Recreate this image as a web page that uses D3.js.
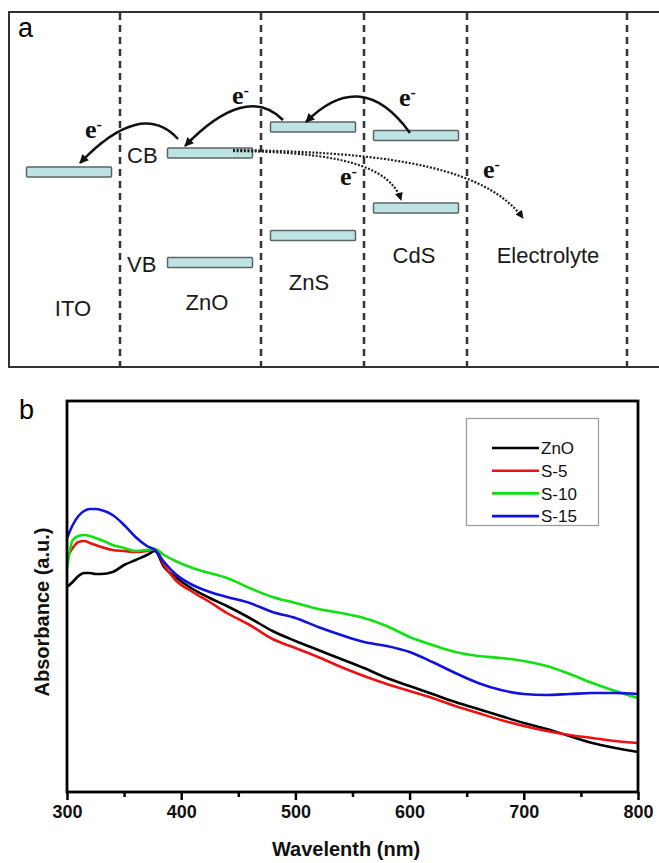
<!DOCTYPE html>
<html>
<head>
<meta charset="utf-8">
<script src="https://cdnjs.cloudflare.com/ajax/libs/d3/7.8.5/d3.min.js"></script>
<style>
	body { margin: 0; background: #fff; }
	svg { display: block; }
	text { font-family: "Liberation Sans", Arial, sans-serif; }
</style>
</head>
<body>
<svg width="659" height="863"></svg>
<script>
// ---- panel b data (absorbance, a.u.) ----
var wavelengths = [300, 305, 310, 315, 320, 325, 330, 340, 350, 360, 370, 377, 385, 395, 410, 425, 440, 460, 480, 500,
	520, 540, 560, 580, 600, 620, 640, 660, 680, 700, 720, 740, 760, 780, 800];
var absZnO = [2.05, 2.10, 2.16, 2.19, 2.19, 2.18, 2.18, 2.20, 2.27, 2.32, 2.37, 2.41, 2.25, 2.15, 2.03, 1.94, 1.86, 1.74, 1.61, 1.51,
	1.42, 1.33, 1.24, 1.14, 1.06, 0.98, 0.90, 0.83, 0.76, 0.69, 0.63, 0.56, 0.49, 0.44, 0.40];
var absS5 = [2.34, 2.44, 2.50, 2.51, 2.49, 2.47, 2.45, 2.42, 2.41, 2.40, 2.41, 2.43, 2.27, 2.12, 2.00, 1.90, 1.79, 1.67, 1.53, 1.44,
	1.35, 1.25, 1.16, 1.08, 1.01, 0.94, 0.86, 0.79, 0.72, 0.66, 0.61, 0.57, 0.54, 0.51, 0.49];
var absS10 = [2.24, 2.52, 2.56, 2.57, 2.56, 2.54, 2.52, 2.47, 2.44, 2.41, 2.42, 2.43, 2.37, 2.31, 2.24, 2.19, 2.14, 2.04, 1.95, 1.89,
	1.83, 1.79, 1.74, 1.66, 1.55, 1.47, 1.40, 1.36, 1.34, 1.31, 1.26, 1.18, 1.09, 1.01, 0.94];
var absS15 = [2.54, 2.67, 2.76, 2.81, 2.83, 2.83, 2.82, 2.77, 2.67, 2.55, 2.46, 2.42, 2.30, 2.18, 2.07, 2.00, 1.95, 1.89, 1.80, 1.74,
	1.65, 1.57, 1.50, 1.46, 1.40, 1.30, 1.19, 1.09, 1.02, 0.98, 0.97, 0.98, 0.99, 0.99, 0.98];
var seriesNames = ["ZnO", "S-5", "S-10", "S-15"];
var seriesColors = ["#000000", "#ee1111", "#11e011", "#1111e0"];
var xTicks = [300, 400, 500, 600, 700, 800];
var xMinorTicks = [350, 450, 550, 650, 750];

// ---- panel a data (relative energy levels) ----
var layers = ["ITO", "ZnO", "ZnS", "CdS", "Electrolyte"];
var cbLevels = [12.8, 14.7, 17.3, 16.45, null];
var vbLevels = [null, 3.75, 6.45, 9.2, null];

var svg = d3.select("svg");

// =================== panel a ===================
var dividers = [120, 261, 364, 467, 627];
var labelPos = [[73, 316], [207, 310], [309, 290], [414, 263], [548, 263]];
var eLevel = d3.scaleLinear().domain([0, 30]).range([300, 0]);

var a = svg.append("g");

a.append("path")
	.attr("d", "M665,12 H9 V367 H665")
	.attr("fill", "none")
	.attr("stroke", "#333")
	.attr("stroke-width", 2);

a.selectAll("line.div")
	.data(dividers)
	.enter()
	.append("line")
	.attr("class", "div")
	.attr("x1", d => d).attr("x2", d => d)
	.attr("y1", 13).attr("y2", 367)
	.attr("stroke", "#333")
	.attr("stroke-width", 2.5)
	.attr("stroke-dasharray", "7,5");

a.append("text")
	.attr("x", 18).attr("y", 37)
	.style("font-size", "27px")
	.text("a");

var bands = [];
layers.forEach((name, i) => {
	if (cbLevels[i] != null) bands.push({layer: i, e: cbLevels[i]});
	if (vbLevels[i] != null) bands.push({layer: i, e: vbLevels[i]});
});

a.selectAll("rect.band")
	.data(bands)
	.enter()
	.append("rect")
	.attr("class", "band")
	.attr("x", d => dividers[d.layer] - 93.5)
	.attr("y", d => eLevel(d.e) - 5)
	.attr("width", 85)
	.attr("height", 10)
	.attr("rx", 1)
	.attr("fill", "#bfe3e2")
	.attr("stroke", "#5a6464")
	.attr("stroke-width", 1.5);

a.selectAll("text.layer")
	.data(layers)
	.enter()
	.append("text")
	.attr("class", "layer")
	.attr("x", (d, i) => labelPos[i][0])
	.attr("y", (d, i) => labelPos[i][1])
	.attr("text-anchor", "middle")
	.style("font-size", "22px")
	.style("fill", "#1a1a1a")
	.text(d => d);

a.append("text").attr("x", 127).attr("y", 163)
	.style("font-size", "22px").style("fill", "#1a1a1a").text("CB");
a.append("text").attr("x", 127).attr("y", 272)
	.style("font-size", "22px").style("fill", "#1a1a1a").text("VB");

var defs = svg.append("defs");
defs.append("marker")
	.attr("id", "head")
	.attr("viewBox", "0 0 10 10")
	.attr("refX", 9).attr("refY", 5)
	.attr("markerWidth", 11).attr("markerHeight", 9)
	.attr("markerUnits", "userSpaceOnUse")
	.attr("orient", "auto")
	.append("path")
	.attr("d", "M0,0 L10,5 L0,10 z")
	.attr("fill", "#111");
defs.append("marker")
	.attr("id", "headSmall")
	.attr("viewBox", "0 0 10 10")
	.attr("refX", 9).attr("refY", 5)
	.attr("markerWidth", 9).attr("markerHeight", 8)
	.attr("markerUnits", "userSpaceOnUse")
	.attr("orient", "auto")
	.append("path")
	.attr("d", "M0,0 L10,5 L0,10 z")
	.attr("fill", "#111");

var solidArrows = [
	"M178,139 Q141,99 80,163",
	"M283,120 Q246,83 185,146",
	"M410,133 Q362,66 306,122"
];
a.selectAll("path.solid")
	.data(solidArrows)
	.enter()
	.append("path")
	.attr("class", "solid")
	.attr("d", d => d)
	.attr("fill", "none")
	.attr("stroke", "#111")
	.attr("stroke-width", 2.5)
	.attr("marker-end", "url(#head)");

var dottedArrows = [
	"M233,151 C310,152 388,158 401,200",
	"M233,150 C360,152 480,160 523,218"
];
a.selectAll("path.dotted")
	.data(dottedArrows)
	.enter()
	.append("path")
	.attr("class", "dotted")
	.attr("d", d => d)
	.attr("fill", "none")
	.attr("stroke", "#222")
	.attr("stroke-width", 2.2)
	.attr("stroke-dasharray", "2,1.6")
	.attr("marker-end", "url(#headSmall)");

var eLabels = [[85, 138], [232, 104], [399, 106], [340, 185], [483, 178]];
eLabels.forEach(p => {
	var t = a.append("text")
		.attr("x", p[0]).attr("y", p[1])
		.style("font-family", "'Liberation Serif', 'Times New Roman', serif")
		.style("font-weight", "bold")
		.style("font-size", "26px")
		.style("fill", "#111");
	t.append("tspan").text("e");
	t.append("tspan")
		.attr("dy", -8)
		.style("font-size", "16px")
		.text("-");
});

// =================== panel b ===================
var x = d3.scaleLinear().domain([300, 800]).range([67, 638]);
var y = d3.scaleLinear().domain([0, 3.91]).range([792, 401]);

svg.append("text")
	.attr("x", 19).attr("y", 419)
	.style("font-size", "27px")
	.text("b");

var seriesValues = [absZnO, absS5, absS10, absS15];
var line = d3.line()
	.x((d, i) => x(wavelengths[i]))
	.y(d => y(d))
	.curve(d3.curveMonotoneX);

svg.append("g")
	.selectAll("path")
	.data(seriesValues)
	.enter()
	.append("path")
	.attr("d", line)
	.attr("fill", "none")
	.attr("stroke", (d, i) => seriesColors[i])
	.attr("stroke-width", 2.6)
	.attr("stroke-linejoin", "round");

svg.append("rect")
	.attr("x", 67).attr("y", 401)
	.attr("width", 571).attr("height", 391)
	.attr("fill", "none")
	.attr("stroke", "#000")
	.attr("stroke-width", 2.8);

var xAxis = svg.append("g")
	.attr("transform", "translate(0,792)")
	.call(d3.axisBottom(x).tickValues(xTicks).tickSize(8).tickPadding(5).tickFormat(d3.format("d")));
xAxis.select(".domain").remove();
xAxis.selectAll("line").attr("stroke", "#000").attr("stroke-width", 2.5);
xAxis.selectAll("text")
	.style("font-family", "'Liberation Sans', Arial, sans-serif")
	.style("font-weight", "bold")
	.style("font-size", "18px")
	.style("fill", "#111");

var xMinor = svg.append("g")
	.attr("transform", "translate(0,792)")
	.call(d3.axisBottom(x).tickValues(xMinorTicks).tickSize(5).tickFormat(""));
xMinor.select(".domain").remove();
xMinor.selectAll("line").attr("stroke", "#000").attr("stroke-width", 2.5);

svg.append("text")
	.attr("x", 346).attr("y", 856)
	.attr("text-anchor", "middle")
	.style("font-weight", "bold")
	.style("font-size", "20px")
	.style("fill", "#111")
	.text("Wavelenth (nm)");

svg.append("text")
	.attr("transform", "translate(49,612) rotate(-90)")
	.attr("text-anchor", "middle")
	.style("font-weight", "bold")
	.style("font-size", "20px")
	.style("fill", "#111")
	.text("Absorbance (a.u.)");

// legend
var legend = svg.append("g");
legend.append("rect")
	.attr("x", 466.5).attr("y", 418.5)
	.attr("width", 132).attr("height", 107)
	.attr("fill", "#fff")
	.attr("stroke", "#9a9a9a")
	.attr("stroke-width", 1.2);

var item = legend.selectAll("g.item")
	.data(seriesNames)
	.enter()
	.append("g")
	.attr("class", "item")
	.attr("transform", (d, i) => "translate(0," + (448 + i * 22.7) + ")");
item.append("line")
	.attr("x1", 492).attr("x2", 539)
	.attr("stroke", (d, i) => seriesColors[i])
	.attr("stroke-width", 2.6);
item.append("text")
	.attr("x", 541).attr("y", 0)
	.attr("dy", "0.36em")
	.style("font-size", "17px")
	.style("fill", "#111")
	.text(d => d);
</script>
</body>
</html>
